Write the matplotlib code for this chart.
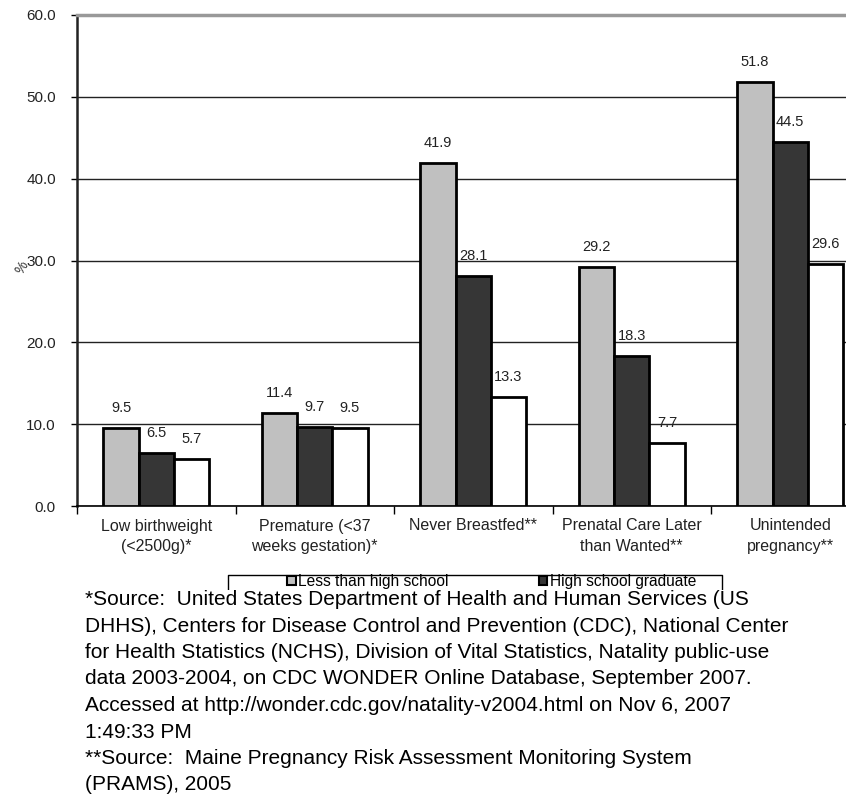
import matplotlib
matplotlib.use("Agg")
import matplotlib.pyplot as plt
import numpy as np
from matplotlib.patches import Patch
from matplotlib.lines import Line2D

plt.rcParams['font.family'] = ['Liberation Sans', 'DejaVu Sans']

categories = ["Low birthweight\n(<2500g)*", "Premature (<37\nweeks gestation)*",
              "Never Breastfed**", "Prenatal Care Later\nthan Wanted**",
              "Unintended\npregnancy**"]
less_than_hs = [9.5, 11.4, 41.9, 29.2, 51.8]
hs_graduate = [6.5, 9.7, 28.1, 18.3, 44.5]
more_than_hs = [5.7, 9.5, 13.3, 7.7, 29.6]
series_names = ["Less than high school", "High school graduate"]
yticks = [0, 10, 20, 30, 40, 50, 60]

footnote = ("*Source:  United States Department of Health and Human Services (US\n"
            "DHHS), Centers for Disease Control and Prevention (CDC), National Center\n"
            "for Health Statistics (NCHS), Division of Vital Statistics, Natality public-use\n"
            "data 2003-2004, on CDC WONDER Online Database, September 2007.\n"
            "Accessed at http://wonder.cdc.gov/natality-v2004.html on Nov 6, 2007\n"
            "1:49:33 PM\n"
            "**Source:  Maine Pregnancy Risk Assessment Monitoring System\n"
            "(PRAMS), 2005")

W, H = 846, 797
fig = plt.figure(figsize=(W / 100, H / 100), dpi=100)
ax = fig.add_axes([77 / W, 1 - 506 / H, (W - 77) / W, (506 - 15) / H])

x = np.arange(len(categories))
bw = 0.222
colors = ["#c0c0c0", "#363636", "#ffffff"]
for i, (vals, c) in enumerate(zip([less_than_hs, hs_graduate, more_than_hs], colors)):
    pos = x + (i - 1) * bw
    ax.bar(pos, vals, width=bw, color=c, edgecolor="black", linewidth=2.0, zorder=3)
    for p, v in zip(pos, vals):
        ax.annotate(f"{v:.1f}", (p, v), xytext=(0, 20), textcoords="offset pixels",
                    ha="center", va="center", fontsize=10.5, color="#222222", zorder=4)

ax.set_xlim(-0.5, -0.5 + (W - 77) / 158.5)
ax.set_ylim(0, 60)
ax.set_yticks(yticks)
ax.set_yticklabels([f"{t:.1f}" for t in yticks], fontsize=11, color="#222222")
ax.yaxis.grid(True, color="#222222", linewidth=1, zorder=0)
ax.set_axisbelow(True)
ax.tick_params(axis="y", length=4.3, width=1, pad=11)

ax.set_xticks(x)
ax.set_xticklabels(categories, fontsize=11.5, va="top", linespacing=1.45, color="#222222")
ax.tick_params(axis="x", which="major", length=0, pad=9)
ax.set_xticks(np.arange(len(categories)) - 0.5, minor=True)
ax.tick_params(axis="x", which="minor", length=6, width=1)

ax.spines["right"].set_visible(False)
ax.spines["top"].set_color("#999999")
ax.spines["top"].set_linewidth(2.5)
ax.spines["left"].set_linewidth(1.8)
ax.spines["left"].set_color("#222222")
ax.spines["bottom"].set_linewidth(1.2)

fig.text(22 / W, 1 - 268 / H, "%", rotation=60, fontsize=10, ha="center", va="center",
         color="#333333")

# legend box (bottom hidden behind the footnote)
fig.add_artist(Line2D([228 / W, 228 / W, 722 / W, 722 / W],
                      [1 - 600 / H, 1 - 575 / H, 1 - 575 / H, 1 - 600 / H],
                      color="black", linewidth=1, transform=fig.transFigure, zorder=1))
handles = [Patch(facecolor=colors[0], edgecolor="black", linewidth=1.5),
           Patch(facecolor=colors[1], edgecolor="black", linewidth=1.5)]
leg = fig.legend(handles, series_names, ncol=2, loc="upper left",
                 bbox_to_anchor=(287 / W, 1 - 574 / H),
                 fontsize=11.2, frameon=False, borderpad=0, borderaxespad=0,
                 handlelength=0.55, handleheight=0.55,
                 handletextpad=0.15, columnspacing=5.8)

fig.text(85 / W, 1 - 590 / H, footnote, fontsize=15.0, ha="left", va="top",
         linespacing=1.5, zorder=10,
         bbox=dict(facecolor="white", edgecolor="none", pad=0))

fig.savefig("out.png", dpi=100)
